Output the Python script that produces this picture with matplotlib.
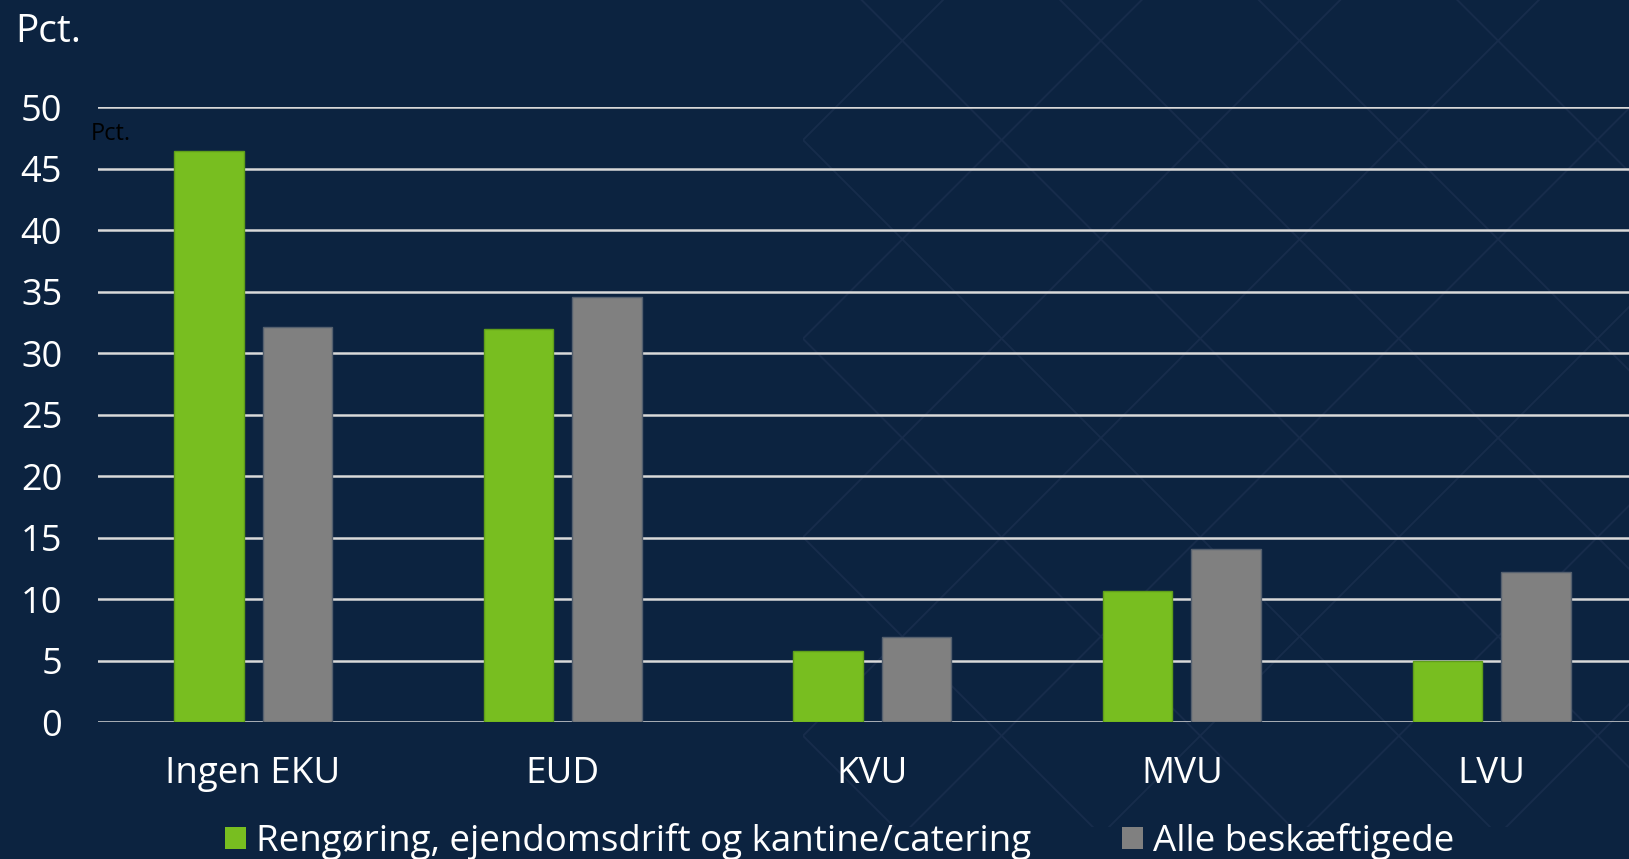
import matplotlib
matplotlib.use("Agg")
import matplotlib.pyplot as plt
import numpy as np
from matplotlib.patches import Patch, Rectangle

# data
categories = ['Ingen EKU', 'EUD', 'KVU', 'MVU', 'LVU']
rengoering = [46.4, 32.0, 5.8, 10.7, 5.0]
alle = [32.1, 34.6, 6.9, 14.1, 12.2]
series_labels = ['Rengøring, ejendomsdrift og kantine/catering', 'Alle beskæftigede']
yticks = list(range(0, 55, 5))

BG = '#0c2340'
GREEN = '#78be20'
GREY = '#808080'
GRID = '#d9d9d9'

plt.rcParams['font.family'] = ['Open Sans', 'DejaVu Sans']

W, H = 1629, 859
fig = plt.figure(figsize=(W / 100, H / 100), dpi=100)
fig.patch.set_facecolor(BG)

# background diamond pattern (pixel coords, y down)
bg = fig.add_axes([0, 0, 1, 1], zorder=0)
bg.set_xlim(0, W)
bg.set_ylim(H, 0)
bg.axis('off')
clip = Rectangle((803, 0), W - 803, 827, transform=bg.transData, facecolor='none', edgecolor='none')
bg.add_patch(clip)
xs = np.array([803, W])
for n in range(-6, 8):
    c = -663 + 198.6 * n
    d = 943 + 198.6 * n
    for yy in (xs + c, -xs + d):
        ln, = bg.plot(xs, yy, color='#172c4b', lw=1.4)
        ln.set_clip_path(clip)

# main chart
ax = fig.add_axes([98.3 / W, (H - 722.3) / H, (W - 98.3) / W, (722.3 - 107) / H], zorder=1)
ax.set_facecolor('none')

x = np.arange(len(categories))
bw = 0.2245
off = 0.143
ax.bar(x - off, rengoering, bw, color=GREEN, edgecolor='#5f9e1a', linewidth=1, zorder=3)
ax.bar(x + off, alle, bw, color=GREY, edgecolor='#55606e', linewidth=1, zorder=3)

ax.set_xlim(-0.5, 4.444)
ax.set_ylim(0, 50)
ax.set_yticks(yticks)
ax.set_xticks(x)
ax.set_xticklabels(categories)
ax.yaxis.grid(True, color=GRID, linewidth=1.8, zorder=1)
ax.set_axisbelow(True)
for s in ax.spines.values():
    s.set_visible(False)
ax.tick_params(axis='y', length=0, pad=26, labelsize=26, labelcolor='white')
ax.tick_params(axis='x', length=0, pad=24, labelsize=26.5, labelcolor='white')

# titles
fig.text(15 / W, 1 - 41.7 / H, 'Pct.', color='white', fontsize=28, va='baseline', ha='left')
fig.text(90.7 / W, 1 - 140 / H, 'Pct.', color='black', fontsize=17, va='baseline', ha='left')

# legend
handles = [Patch(facecolor=GREEN, edgecolor='none', label=series_labels[0]),
           Patch(facecolor=GREY, edgecolor='none', label=series_labels[1])]
fig.legend(handles=handles, loc='upper left', bbox_to_anchor=(225 / W, 1 - 823 / H),
           ncol=2, frameon=False, fontsize=26.5, labelcolor='white',
           handlelength=0.57, handleheight=0.57, handletextpad=0.28,
           columnspacing=2.45, borderpad=0, borderaxespad=0)

fig.savefig('out.png', dpi=100, facecolor=BG)
